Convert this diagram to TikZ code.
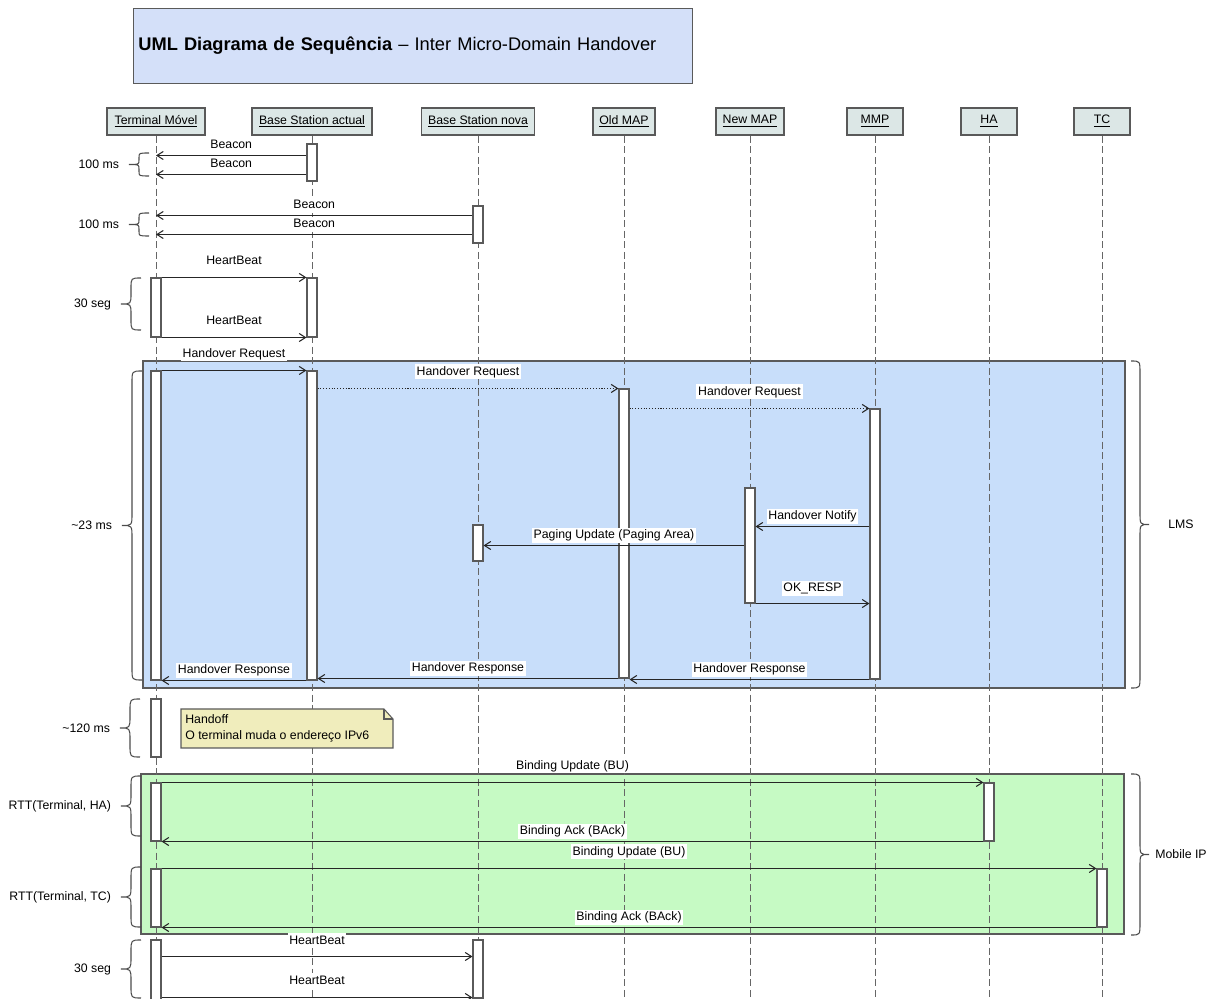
\documentclass[tikz,border=0pt]{standalone}
\usepackage{fontspec}
\setmainfont{Liberation Sans}
\usetikzlibrary{arrows.meta,fit}

\definecolor{titlefill}{RGB}{212,224,249}
\definecolor{headfill}{RGB}{220,231,230}
\definecolor{lmsfill}{RGB}{200,222,250}
\definecolor{mipfill}{RGB}{198,250,196}
\definecolor{notefill}{RGB}{240,237,188}
\definecolor{linegray}{RGB}{90,90,90}

\newcommand{\timespan}[5]{%
  \pgfmathsetmacro{\spanmid}{(#2+#3)/2}%
  \pgfmathsetmacro{\spanr}{min(12,(#3-#2)/5)}%
  \draw[brc] (#1,#2) .. controls (#1-10,#2) .. (#1-10,#2+\spanr) -- (#1-10,\spanmid-\spanr)
    .. controls (#1-10,\spanmid) .. (#1-20,\spanmid)
    .. controls (#1-10,\spanmid) .. (#1-10,\spanmid+\spanr) -- (#1-10,#3-\spanr)
    .. controls (#1-10,#3) .. (#1,#3);
  \node (#4) at (#1-20,\spanmid) [anchor=east, inner sep=1pt, xshift=-4.5pt] {#5};}

\newcommand{\groupspan}[5]{%
  \pgfmathsetmacro{\spanmid}{(#2+#3)/2}%
  \draw[brc] (#1,#2) .. controls (#1+9,#2) .. (#1+9,#2+12) -- (#1+9,\spanmid-12)
    .. controls (#1+9,\spanmid) .. (#1+18,\spanmid)
    .. controls (#1+9,\spanmid) .. (#1+9,\spanmid+12) -- (#1+9,#3-12)
    .. controls (#1+9,#3) .. (#1,#3);
  \node (#4) at (#1+50,\spanmid) {#5};}

\begin{document}
\begin{tikzpicture}[x=0.02cm,y=-0.02cm,
    every node/.style={font=\fontsize{7}{9}\selectfont},
    head/.style={draw=black!65,line width=1pt,fill=headfill,minimum height=0.54cm,inner sep=2pt},
    life/.style={draw=black!60,line width=0.5pt,dash pattern=on 4pt off 2pt},
    act/.style={draw=linegray,fill=white,line width=0.6pt,inner sep=0pt},
    msg/.style={draw=black!85,line width=0.6pt,-{Straight Barb[length=3.6pt,width=4.6pt]}},
    dotmsg/.style={msg,densely dotted},
    lbl/.style={fill=white,inner sep=1pt,text height=5.2pt,text depth=1.4pt,midway,above=1.3pt},
    lblhi/.style={lbl,above=3.6pt},
    brc/.style={draw=black!70,line width=0.6pt}]
    \useasboundingbox (0,0) rectangle (1218,999);

    \node (title) at (133,8) [anchor=north west,draw=linegray,fill=titlefill,minimum width=11.18cm,minimum height=1.5cm,
        text width=10.98cm,inner xsep=0.1cm,align=left,font=\fontsize{10.4}{12}\selectfont]
        {\textbf{UML Diagrama de Sequência} – Inter Micro-Domain Handover};

    \filldraw[draw=linegray,fill=lmsfill,line width=0.6pt] (143,361) rectangle (1125,688);
    \filldraw[draw=linegray,fill=mipfill,line width=0.6pt] (141,774) rectangle (1124,934);

    \foreach \n/\x/\w/\t in {tm/156/1.96/Terminal Móvel, bsa/312/2.40/Base Station actual,
        bsn/478/2.26/Base Station nova, omap/624/1.24/Old MAP, nmap/750/1.35/New MAP,
        mmp/875/1.12/MMP, ha/989/1.12/HA, tc/1102/1.12/TC}
        \node (\n) at (\x,121.5) [head,minimum width=\w cm] {\underline{\t}};
    \foreach \n in {tm,bsa,bsn,omap,nmap,mmp,ha,tc}
        \draw[life] (\n) -- (\n |- 0,999);

    \foreach \n/\x/\a/\b in {b1/312/144/181, b2/478/206/243, h1t/156/278/337, h1b/312/278/337,
        lt/156/371/680, lb/312/371/680, lo/624/389/678, lm/875/409/679, ln/750/488/603,
        lp/478/525/561, ho/156/699/757, r1t/156/783/841, r1h/989/783/841,
        r2t/156/869/927, r2c/1102/869/927, h2t/156/940/1010, h2b/478/940/998}
        \node (\n) [act,fit={(\x-5,\a) (\x+5,\b)}] {};

    \filldraw[draw=linegray,fill=notefill,line width=0.6pt] (181,709) -- (384,709) -- (393,719) -- (393,748) -- (181,748) -- cycle;
    \draw[draw=linegray,line width=0.6pt] (384,709) -- (384,719) -- (393,719);
    \node (hoff) at (185,728.5) [anchor=west,align=left,inner sep=0pt] {Handoff\\O terminal muda o endereço IPv6};

    \draw[msg] (b1.west |- 0,155.5) -- (tm |- 0,155.5) node[lbl] {Beacon};
    \draw[msg] (b1.west |- 0,174.5) -- (tm |- 0,174.5) node[lbl] {Beacon};
    \draw[msg] (b2.west |- 0,215.5) -- (tm |- 0,215.5) node[lbl] {Beacon};
    \draw[msg] (b2.west |- 0,234.5) -- (tm |- 0,234.5) node[lbl] {Beacon};
    \draw[msg] (h1t.north east) -- (h1b.north west) node[lblhi] {HeartBeat};
    \draw[msg] (h1t.south east) -- (h1b.south west) node[lblhi] {HeartBeat};

    \draw[msg] (lt.north east) -- (lb.north west) node[lblhi] {Handover Request};
    \draw[dotmsg] (lb.east |- lo.north) -- (lo.north west) node[lblhi] {Handover Request};
    \draw[dotmsg] (lo.east |- lm.north) -- (lm.north west) node[lblhi] {Handover Request};
    \draw[msg] (lm.west |- 0,526.5) -- (ln.east |- 0,526.5) node[lbl] {Handover Notify};
    \draw[msg] (ln.west |- 0,545.5) -- (lp.east |- 0,545.5) node[lbl] {Paging Update (Paging Area)};
    \draw[msg] (ln.south east) -- (ln.south east -| lm.west) node[lbl,above=2.6pt] {OK\_RESP};
    \draw[msg] (lm.south west) -- (lm.south west -| lo.east) node[lbl] {Handover Response};
    \draw[msg] (lo.south west) -- (lo.south west -| lb.east) node[lbl] {Handover Response};
    \draw[msg] (lb.south west) -- (lb.south west -| lt.east) node[lbl] {Handover Response};

    \draw[msg] (r1t.north east) -- (r1h.north west) node[lblhi] {Binding Update (BU)};
    \draw[msg] (r1h.south west) -- (r1t.south east) node[lbl] {Binding Ack (BAck)};
    \draw[msg] (r2t.north east) -- (r2c.north west) node[lblhi] {Binding Update (BU)};
    \draw[msg] (r2c.south west) -- (r2t.south east) node[lbl] {Binding Ack (BAck)};
    \draw[msg] (h2t.east |- 0,956.5) -- (h2b.west |- 0,956.5) node[lbl,above=3pt] {HeartBeat};
    \draw[msg] (h2t.east |- 0,997.5) -- (h2b.west |- 0,997.5) node[lblhi] {HeartBeat};

    \timespan{149}{153}{176}{t1}{100 ms}
    \timespan{149}{213}{236}{t2}{100 ms}
    \timespan{141}{278}{330}{t3}{30 seg}
    \timespan{142}{371}{680}{t4}{\textasciitilde 23 ms}
    \timespan{140}{699}{757}{t5}{\textasciitilde 120 ms}
    \timespan{141}{776}{836}{t6}{RTT(Terminal, HA)}
    \timespan{141}{867}{927}{t7}{RTT(Terminal, TC)}
    \timespan{141}{940}{998}{t8}{30 seg}
    \groupspan{1131}{361}{688}{lms}{LMS}
    \groupspan{1131}{774}{935}{mip}{Mobile IP}
\end{tikzpicture}
\end{document}
